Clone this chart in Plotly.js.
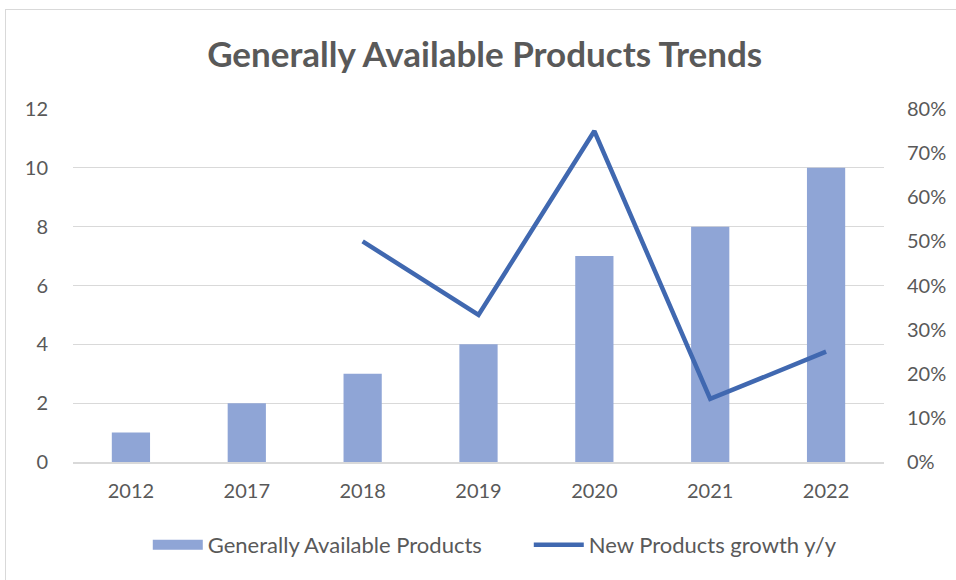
<!DOCTYPE html>
<html><head><meta charset="utf-8">
<script src="https://cdn.plot.ly/plotly-3.0.1.min.js"></script>
<style>
html,body{margin:0;padding:0;background:#fff;}
#wrap{position:relative;width:956px;height:580px;overflow:hidden;}
#frame{position:absolute;left:5px;top:9px;width:1000px;height:600px;border-top:1px solid #d9d9d9;border-left:1px solid #d9d9d9;pointer-events:none;}
#chart{position:absolute;left:0;top:0;width:956px;height:580px;}
</style></head>
<body><div id="wrap"><div id="chart"></div><div id="frame"></div></div>
<script>
const categories = ["2012","2017","2018","2019","2020","2021","2022"];
const availableProducts = [1,2,3,4,7,8,10];
const growth = [null,null,0.50,0.3333,0.75,0.1429,0.25];
const leftTicks = [0,2,4,6,8,10,12];
const rightTicks = [0,0.1,0.2,0.3,0.4,0.5,0.6,0.7,0.8];
const seriesNames = ["Generally Available Products","New Products growth y/y"];

const font = "Lato, 'Open Sans', sans-serif";
const gray = "#595959";
const barColor = "#8FA5D6";
const lineColor = "#4068B0";
const traces = [
  {type:"bar", x:categories, y:availableProducts, name:seriesNames[0],
   marker:{color:barColor}, yaxis:"y", showlegend:false},
  // legend entry for the bar series (wide swatch like the original)
  {type:"scatter", mode:"lines", x:[null], y:[null], name:seriesNames[0],
   line:{color:barColor, width:11}, yaxis:"y", showlegend:true, legendrank:1},
  {type:"scatter", mode:"lines", x:categories, y:growth, name:seriesNames[1],
   line:{color:lineColor, width:4.5}, yaxis:"y2", connectgaps:false, legendrank:2}
];
const layout = {
  width:956, height:580,
  margin:{l:73, r:72, t:109, b:118},
  paper_bgcolor:"rgba(0,0,0,0)", plot_bgcolor:"rgba(0,0,0,0)",
  font:{family:font, color:gray, size:20},
  title:{text:"<b>Generally Available Products Trends</b>", x:0.507, xanchor:"center", y:0.905, yanchor:"middle",
         font:{family:font, size:35, color:gray}},
  bargap:0.67,
  xaxis:{type:"category", showgrid:false, showline:true, linecolor:"#d9d9d9", linewidth:1.5,
         ticks:"", tickfont:{size:20, color:gray}, ticklabelstandoff:10},
  yaxis:{range:[0,12], tickvals:leftTicks, showgrid:true, gridcolor:"#d9d9d9", gridwidth:1.3,
         zeroline:false, showline:false, ticks:"", tickfont:{size:20, color:gray}, ticklabelstandoff:24},
  yaxis2:{range:[0,0.8], tickvals:rightTicks, tickformat:".0%", overlaying:"y", side:"right",
          showgrid:false, zeroline:false, showline:false, ticks:"", tickfont:{size:20, color:gray}, ticklabelstandoff:22},
  legend:{orientation:"h", x:0.562, xanchor:"center", y:-0.235, yanchor:"middle",
          font:{size:22, color:gray}, itemwidth:50, entrywidth:316, traceorder:"normal"},
  showlegend:true
};
Plotly.newPlot("chart", traces, layout, {staticPlot:true, displayModeBar:false});
</script></body></html>
